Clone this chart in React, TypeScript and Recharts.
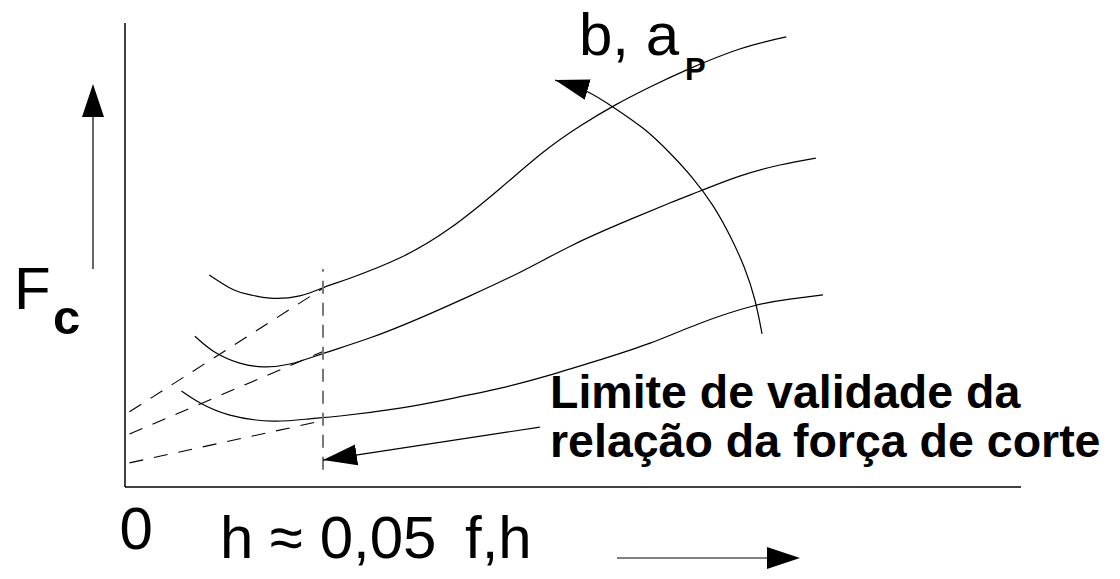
import React from 'react';
import { LineChart, Line, XAxis, YAxis } from 'recharts';

// Curves (schematic units: x 0–100 across the axis, y 0–100 up the axis)
const topX = [9.4, 12.1, 14.0, 16.2, 19.5, 22.3, 25.1, 30.7, 36.3, 41.9, 46.7, 50.8, 54.7, 58.6, 62.7, 68.6, 73.8];
const topY = [45.7, 42.5, 41.4, 40.7, 41.2, 43.1, 45.0, 49.4, 55.8, 64.4, 72.2, 77.8, 82.3, 86.2, 89.9, 94.4, 97.0];

const midX = [7.8, 10.0, 12.8, 15.4, 18.4, 22.3, 27.3, 32.9, 38.5, 44.1, 49.7, 55.2, 60.8, 64.2, 68.6, 73.1, 77.1];
const midY = [32.5, 29.1, 26.7, 25.9, 26.5, 28.9, 32.1, 36.4, 41.2, 46.3, 51.9, 56.7, 61.2, 63.8, 67.0, 69.4, 70.9];

const botX = [6.3, 8.4, 11.7, 16.5, 20.6, 24.0, 30.7, 36.3, 41.9, 47.4, 53.0, 58.6, 64.2, 70.1, 74.2, 77.9];
const botY = [20.7, 18.1, 15.5, 14.2, 14.7, 15.3, 17.0, 19.0, 21.3, 24.1, 27.4, 31.0, 35.3, 39.0, 40.5, 41.4];

// Dashed extrapolations to the origin region
const extTopX = [0.5, 22.3];
const extTopY = [16.2, 43.1];
const extMidX = [0.5, 22.1];
const extMidY = [11.4, 29.2];
const extBotX = [0.5, 22.1];
const extBotY = [5.2, 14.3];

// Validity limit (h ≈ 0,05)
const limitX = [22.1, 22.1];
const limitY = [3.7, 47.0];

// Pointer from the annotation to the limit line
const pointerX = [46.3, 22.1];
const pointerY = [12.9, 5.8];

// Arc indicating increasing b, a_P
const arcX = [48.0, 51.4, 54.7, 57.9, 60.7, 63.3, 65.6, 67.5, 69.1, 70.3, 71.1];
const arcY = [87.7, 85.4, 81.6, 77.2, 72.2, 66.7, 60.7, 54.2, 47.4, 40.3, 33.0];

const zip = (xs: number[], ys: number[]) => xs.map((x, i) => ({ x, y: ys[i] }));

const FONT = '"Liberation Sans", Arial, sans-serif';

export default function App() {
  return (
    <div style={{ position: 'absolute', left: 0, top: 0, width: 1120, height: 579, background: '#fff' }}>
      <LineChart width={1120} height={579} margin={{ top: 23, right: 99, bottom: 91, left: 124 }}>
        <defs>
          <marker
            id="arrowHead"
            viewBox="0 -11 34 22"
            refX={34}
            refY={0}
            markerWidth={34}
            markerHeight={22}
            markerUnits="userSpaceOnUse"
            orient="auto-start-reverse"
          >
            <path d="M0,-10.5 L34,0 L0,10.5 Z" fill="#000" />
          </marker>
        </defs>
        <XAxis
          type="number"
          dataKey="x"
          domain={[0, 100]}
          allowDataOverflow
          height={1}
          ticks={[0]}
          tick={false}
          tickSize={7}
          axisLine={{ stroke: '#000', strokeWidth: 1.5 }}
          tickLine={{ stroke: '#000', strokeWidth: 1.2 }}
        />
        <YAxis
          type="number"
          dataKey="y"
          domain={[0, 100]}
          allowDataOverflow
          width={1}
          ticks={[0]}
          tick={false}
          tickSize={3}
          axisLine={{ stroke: '#000', strokeWidth: 1.5 }}
          tickLine={{ stroke: '#000', strokeWidth: 1.2 }}
        />
        <Line data={zip(topX, topY)} dataKey="y" type="natural" stroke="#000" strokeWidth={1.2} dot={false} activeDot={false} isAnimationActive={false} />
        <Line data={zip(midX, midY)} dataKey="y" type="natural" stroke="#000" strokeWidth={1.2} dot={false} activeDot={false} isAnimationActive={false} />
        <Line data={zip(botX, botY)} dataKey="y" type="natural" stroke="#000" strokeWidth={1.2} dot={false} activeDot={false} isAnimationActive={false} />
        <Line data={zip(extTopX, extTopY)} dataKey="y" type="linear" stroke="#000" strokeWidth={1.1} strokeDasharray="14 11" dot={false} activeDot={false} isAnimationActive={false} />
        <Line data={zip(extMidX, extMidY)} dataKey="y" type="linear" stroke="#000" strokeWidth={1.1} strokeDasharray="14 11" dot={false} activeDot={false} isAnimationActive={false} />
        <Line data={zip(extBotX, extBotY)} dataKey="y" type="linear" stroke="#000" strokeWidth={1.1} strokeDasharray="14 11" dot={false} activeDot={false} isAnimationActive={false} />
        <Line data={zip(limitX, limitY)} dataKey="y" type="linear" stroke="#777" strokeWidth={2} strokeDasharray="13 9" dot={false} activeDot={false} isAnimationActive={false} />
        <Line data={zip(pointerX, pointerY)} dataKey="y" type="linear" stroke="#000" strokeWidth={1.2} markerEnd="url(#arrowHead)" dot={false} activeDot={false} isAnimationActive={false} />
        <Line data={zip(arcX, arcY)} dataKey="y" type="natural" stroke="#000" strokeWidth={1.2} markerStart="url(#arrowHead)" dot={false} activeDot={false} isAnimationActive={false} />
      </LineChart>
      <svg
        width={1120}
        height={579}
        style={{ position: 'absolute', left: 0, top: 0, pointerEvents: 'none' }}
      >
        {/* axis direction arrows */}
        <line x1={93} y1={117} x2={93} y2={269} stroke="#000" strokeWidth={1.2} />
        <path d="M93,84 L82,117 L104,117 Z" fill="#000" />
        <line x1={617} y1={558} x2={770} y2={558} stroke="#000" strokeWidth={1.2} />
        <path d="M800,558 L767,547 L767,569 Z" fill="#000" />
        {/* labels */}
        <text x={14} y={309} fontFamily={FONT} fontSize={60} fill="#000">F</text>
        <text x={53} y={334} fontFamily={FONT} fontSize={49} fontWeight="bold" fill="#000">c</text>
        <text x={579} y={55} fontFamily={FONT} fontSize={60} fill="#000">b, a</text>
        <text x={685} y={80} fontFamily={FONT} fontSize={31} fontWeight="bold" fill="#000">P</text>
        <text x={119.5} y={549} fontFamily={FONT} fontSize={60} fill="#000">0</text>
        <text x={220} y={558} fontFamily={FONT} fontSize={60} fill="#000">h ≈ 0,05</text>
        <text x={465} y={558} fontFamily={FONT} fontSize={60} fill="#000">f,h</text>
        <text x={550} y={408} fontFamily={FONT} fontSize={46.5} fontWeight="bold" fill="#000">Limite de validade da</text>
        <text x={550} y={457} fontFamily={FONT} fontSize={46.5} fontWeight="bold" fill="#000">relação da força de corte</text>
      </svg>
    </div>
  );
}
